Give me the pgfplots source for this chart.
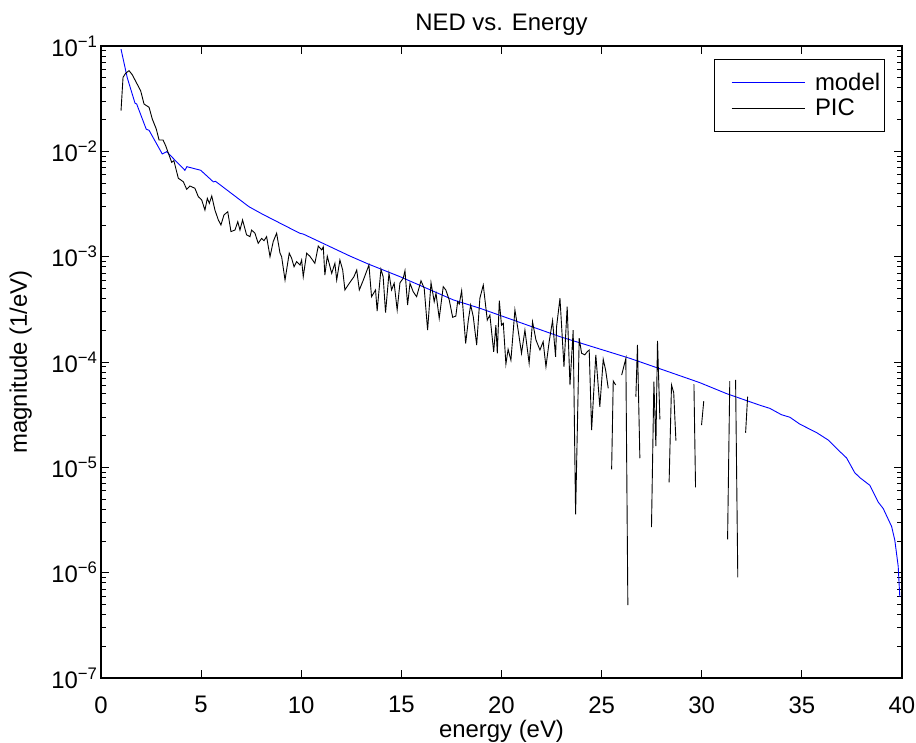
\documentclass[border=0pt]{standalone}
\usepackage{fontspec}
\setmainfont{Liberation Sans}
\usepackage{pgfplots}
\pgfplotsset{compat=1.18}
\newcommand{\fs}{\fontsize{24}{28}\selectfont}
\begin{document}
\begin{tikzpicture}
\useasboundingbox (-101bp,-65bp) rectangle (815bp,678bp);
\begin{axis}[
  at={(0,0)}, anchor=south west,
  scale only axis, width=801bp, height=632bp,
  xmin=0, xmax=40, ymin=1e-7, ymax=1e-1, ymode=log,
  xtick={0,5,10,15,20,25,30,35,40},
  xticklabels={0,5,10,15,20,25,30,35,40},
  ytick={1e-7,1e-6,1e-5,1e-4,1e-3,1e-2,1e-1},
  yticklabels={10\textsuperscript{−7},10\textsuperscript{−6},10\textsuperscript{−5},10\textsuperscript{−4},10\textsuperscript{−3},10\textsuperscript{−2},10\textsuperscript{−1}},
  minor ytick={2e-7,3e-7,4e-7,5e-7,6e-7,7e-7,8e-7,9e-7,
               2e-6,3e-6,4e-6,5e-6,6e-6,7e-6,8e-6,9e-6,
               2e-5,3e-5,4e-5,5e-5,6e-5,7e-5,8e-5,9e-5,
               2e-4,3e-4,4e-4,5e-4,6e-4,7e-4,8e-4,9e-4,
               2e-3,3e-3,4e-3,5e-3,6e-3,7e-3,8e-3,9e-3,
               2e-2,3e-2,4e-2,5e-2,6e-2,7e-2,8e-2,9e-2},
  major tick length=8bp, minor tick length=5bp,
  tick style={black, line width=0.9bp},
  axis line style={line width=1.2bp},
  tick align=inside,
  ticklabel style={font=\fs},
  xticklabel style={yshift=-15bp},
  title={NED vs. Energy},
  title style={font=\fs, at={(axis description cs:0.5,1.0158)}, anchor=base},
  xlabel={energy (eV)},
  xlabel style={font=\fs, at={(axis description cs:0.5,-0.0934)}, anchor=base},
  ylabel={magnitude (1/eV)},
  ylabel style={font=\fs, at={(axis description cs:-0.0924,0.5)}, anchor=base},
  unbounded coords=jump,
  legend style={at={(axis description cs:0.9788,0.9794)}, anchor=north east,
    draw=black, line width=0.8bp, font=\fs, cells={anchor=west},
    inner xsep=2.5bp, inner ysep=10.5bp, row sep=0bp, column sep=8bp,
    nodes={inner ysep=3.5bp}},
  legend image code/.code={\path (0bp,0bp); \draw[#1] (14bp,0bp) -- (87bp,0bp);},
]
\addplot[blue, line width=0.9bp] coordinates {
(1.0,9.33e-2)(1.31,5.01e-2)(1.70,2.86e-2)(1.78,2.82e-2)(2.26,1.62e-2)(2.40,1.585e-2)
(3.06,9.44e-3)(3.28,9.93e-3)(4.19,6.61e-3)(4.29,7.15e-3)(4.98,6.61e-3)(5.61,5.13e-3)
(5.72,5.19e-3)(7.39,2.98e-3)(8.05,2.54e-3)(9.93,1.667e-3)(10.1,1.64e-3)(12.43,1.014e-3)
(13.35,8.51e-4)(14.93,6.46e-4)(17.59,3.89e-4)(18.92,3.24e-4)(22.92,1.74e-4)(26.41,1.084e-4)
(28.91,7.41e-5)(29.9,6.37e-5)(31.24,5.01e-5)(32.9,3.89e-5)(33.4,3.63e-5)(33.98,3.16e-5)
(34.4,2.99e-5)(34.9,2.57e-5)(35.73,2.14e-5)(36.31,1.82e-5)(36.9,1.41e-5)(37.23,1.23e-5)
(37.64,8.9e-6)(37.89,8.0e-6)(38.39,6.76e-6)(38.81,4.68e-6)(39.06,4.07e-6)(39.48,2.75e-6)
(39.64,2.04e-6)(39.81,1.15e-6)(39.89,5.9e-7)
};
\addlegendentry{model}
\addplot[black, line width=0.9bp] coordinates {
(1.00,2.43e-2)(1.10,5.04e-2)(1.23,5.51e-2)(1.40,5.83e-2)(1.56,5.34e-2)(1.76,4.52e-2)
(1.98,3.76e-2)(2.15,2.81e-2)(2.40,2.62e-2)(2.56,2.03e-2)(2.76,1.63e-2)(2.90,1.28e-2)
(3.10,1.28e-2)(3.23,1.13e-2)(3.53,7.87e-3)(3.64,8.15e-3)(3.86,5.55e-3)(4.11,5.15e-3)
(4.28,4.36e-3)(4.44,4.69e-3)(4.69,4.46e-3)(4.86,3.71e-3)(5.03,3.45e-3)(5.19,2.77e-3)
(5.31,3.58e-3)(5.41,3.21e-3)(5.53,3.77e-3)(5.69,2.77e-3)(5.86,2.23e-3)(5.99,2.00e-3)
(6.14,2.49e-3)(6.33,2.67e-3)(6.49,1.73e-3)(6.69,1.79e-3)(6.83,2.15e-3)(6.94,1.79e-3)
(7.07,2.23e-3)(7.27,1.61e-3)(7.44,1.55e-3)(7.52,1.79e-3)(7.69,1.67e-3)(7.77,1.49e-3)
(7.85,1.34e-3)(8.02,1.49e-3)(8.14,1.42e-3)(8.27,1.55e-3)(8.44,1.00e-3)(8.60,1.39e-3)
(8.77,1.67e-3)(8.94,1.08e-3)(9.02,1.00e-3)(9.19,6.00e-4)(9.40,1.08e-3)(9.52,9.65e-4)
(9.64,8.03e-4)(9.77,8.96e-4)(9.94,8.33e-4)(10.02,9.30e-4)(10.10,6.45e-4)(10.27,1.08e-3)
(10.43,1.01e-3)(10.68,8.65e-4)(10.85,1.26e-3)(11.02,1.16e-3)(11.10,1.24e-3)(11.18,6.70e-4)
(11.30,1.01e-3)(11.52,6.95e-4)(11.68,8.65e-4)(11.77,6.00e-4)(11.93,9.30e-4)(12.07,7.47e-4)
(12.18,4.83e-4)(12.40,5.59e-4)(12.63,6.45e-4)(12.77,7.47e-4)(12.90,4.83e-4)(13.10,6.00e-4)
(13.38,8.33e-4)(13.51,4.17e-4)(13.71,4.83e-4)(13.79,3.05e-4)(13.98,7.59e-4)(14.09,6.45e-4)
(14.21,2.94e-4)(14.38,6.95e-4)(14.51,4.83e-4)(14.64,5.59e-4)(14.79,3.12e-4)(14.93,5.66e-4)
(15.09,6.23e-4)(15.18,7.36e-4)(15.31,3.48e-4)(15.43,5.59e-4)(15.59,4.65e-4)(15.76,4.17e-4)
(15.98,5.91e-4)(16.14,5.01e-4)(16.31,2.01e-4)(16.48,5.66e-4)(16.64,3.74e-4)(16.73,4.49e-4)
(16.89,2.60e-4)(17.09,5.19e-4)(17.22,4.83e-4)(17.39,3.88e-4)(17.56,2.66e-4)(17.72,2.73e-4)
(17.81,3.74e-4)(17.89,3.55e-4)(18.01,4.75e-4)(18.21,1.50e-4)(18.34,2.47e-4)(18.46,3.48e-4)
(18.59,2.69e-4)(18.76,1.45e-4)(18.92,4.03e-4)(19.09,5.38e-4)(19.29,2.50e-4)(19.42,2.79e-4)
(19.61,1.25e-4)(19.72,2.24e-4)(19.79,1.21e-4)(19.89,3.82e-4)(20.00,2.24e-4)(20.09,2.33e-4)
(20.22,9.57e-5)(20.33,1.32e-4)(20.47,1.04e-4)(20.67,3.12e-4)(20.83,2.01e-4)(21.00,1.21e-4)
(21.17,2.01e-4)(21.38,9.72e-5)(21.55,2.41e-4)(21.72,1.62e-4)(21.92,1.30e-4)(22.08,1.56e-4)
(22.22,9.02e-5)(22.38,1.56e-4)(22.55,2.47e-4)(22.70,1.12e-4)(22.75,2.16e-4)(22.92,4.03e-4)
(23.12,9.02e-5)(23.28,3.35e-4)(23.42,6.05e-5)(23.58,2.01e-4)(23.70,3.58e-6)(23.88,1.68e-4)
(24.00,1.21e-4)(24.16,1.17e-4)(24.28,1.25e-4)(24.38,1.30e-4)(24.50,2.26e-5)(24.71,1.17e-4)
(24.91,3.76e-5)(25.08,1.06e-4)(25.20,8.39e-5)(25.33,5.63e-5)(25.42,nan)
(25.50,9.58e-6)(25.58,6.60e-5)(25.70,6.05e-5)(25.85,nan)
(26.00,7.52e-5)(26.21,1.08e-4)(26.31,4.93e-7)(26.5,nan)
(26.71,4.68e-5)(26.79,1.45e-4)(26.91,1.22e-5)(27.2,nan)
(27.49,2.70e-6)(27.61,6.50e-5)(27.71,1.59e-5)(27.79,1.59e-4)(27.91,2.86e-5)(28.1,nan)
(28.37,7.21e-6)(28.49,6.05e-5)(28.60,5.11e-5)(28.71,1.79e-5)(29.2,nan)
(29.61,6.14e-5)(29.69,6.46e-6)(29.85,nan)
(29.99,2.52e-5)(30.10,4.26e-5)(30.7,nan)
(31.29,2.07e-6)(31.40,6.60e-5)(31.55,nan)
(31.69,6.75e-5)(31.80,9.03e-7)(32.0,nan)
(32.19,2.13e-5)(32.29,4.68e-5)
};
\addlegendentry{PIC}
\end{axis}
\end{tikzpicture}
\end{document}
